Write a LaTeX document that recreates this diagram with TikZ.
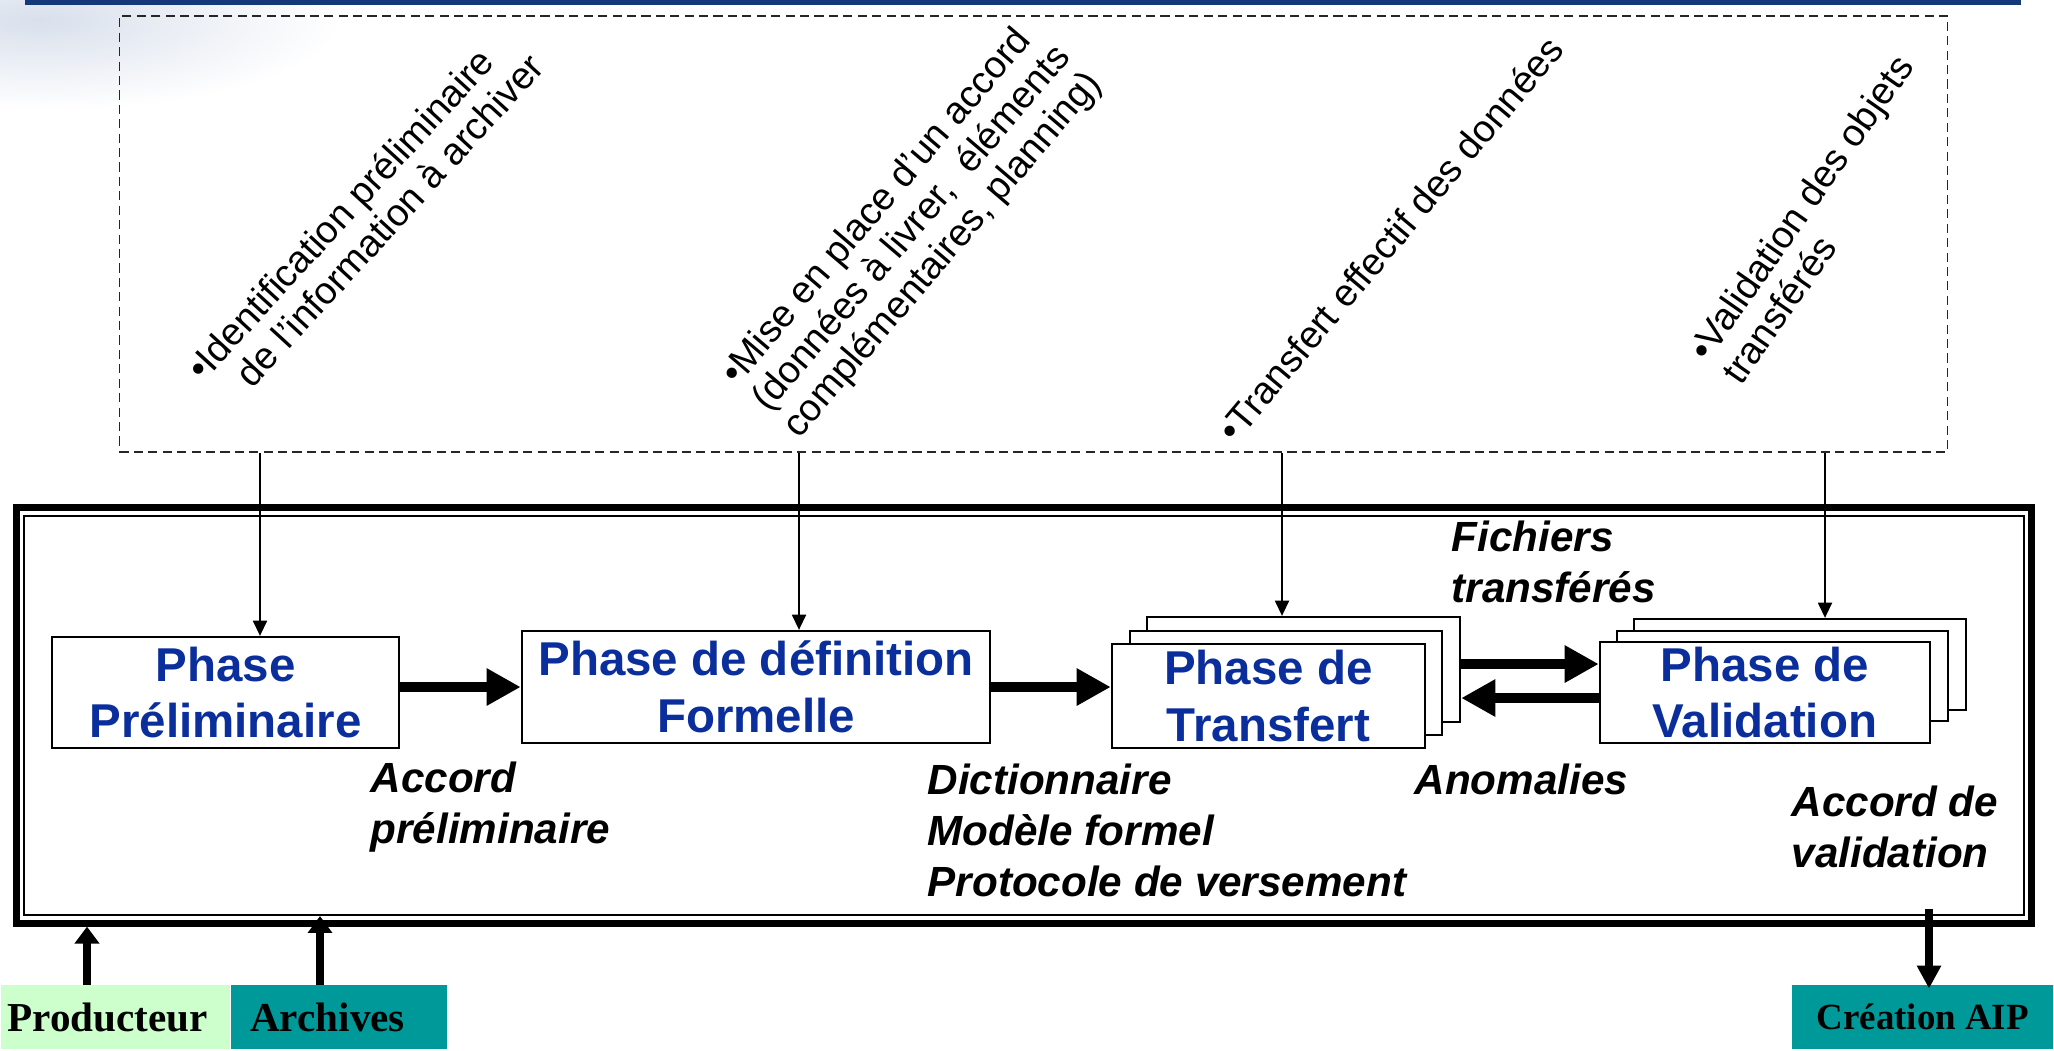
\documentclass[tikz,border=0pt]{standalone}
\usepackage{fontspec}
\setmainfont{Liberation Sans}
\newfontfamily\timesfont{Liberation Serif}
\usepackage{xcolor}
\usepackage{tikz}
\usetikzlibrary{calc,arrows.meta,positioning}
\definecolor{bar}{HTML}{14387A}
\definecolor{glow}{HTML}{D9E0EC}
\definecolor{phaseblue}{HTML}{0A2E9C}
\definecolor{sea}{HTML}{009999}
\definecolor{mint}{HTML}{CCFFCC}
\tikzset{
  frameout/.style={draw=black, line width=2pt, minimum width=20.14cm, minimum height=4.15cm, inner sep=0pt},
  framein/.style={draw=black, line width=0.55pt, minimum width=19.98cm, minimum height=3.99cm, inner sep=0pt},
  ideas/.style={draw=black!85, line width=0.45pt, dash pattern=on 2.6pt off 1.5pt, minimum width=18.27cm, minimum height=4.36cm, inner sep=0pt},
  phase/.style={draw=black, line width=0.65pt, fill=white, text=phaseblue, align=center, inner sep=0pt,
    font=\fontsize{13.5}{16.2}\selectfont\bfseries},
  ghost/.style={draw=black, line width=0.65pt, fill=white, inner sep=0pt},
  task/.style={anchor=base west, align=left, inner sep=0pt, font=\fontsize{10.8}{11.6}\selectfont},
  note/.style={anchor=base west, align=left, inner sep=0pt, font=\fontsize{12}{14.4}\selectfont\bfseries\itshape},
  actor/.style={inner ysep=0pt, minimum height=0.64cm, align=left, font=\timesfont\bfseries\fontsize{11.7}{14}\selectfont},
  feed/.style={draw=black, line width=0.45pt, -{Triangle[length=4.3pt, width=4pt]}},
  flow/.style={draw=black, line width=3.1pt, -{Triangle[length=9.7pt, width=10pt]}},
  lift/.style={draw=black, line width=2.5pt, -{Triangle[length=4.8pt, width=6.8pt]}},
}

\begin{document}
\begin{tikzpicture}[x=0.01cm, y=-0.01cm]
  \useasboundingbox (0,0) rectangle (2054,1050);
  \shade[inner color=glow, outer color=white] (40,20) ellipse (3cm and 0.9cm);
  \fill[bar] (25,0) rectangle (2021,5);

  % activities of each phase (anchored on the last line)
  \node[ideas] (ideas) at (1033.5,234) {};
  \node[task, rotate=47.5] (t1) at (233,411) {•Identification préliminaire\\\hspace*{.75em}de l’information à archiver};
  \node[task, rotate=49.5] (t2) at (799,440) {•Mise en place d’un accord\\(données à livrer,~ éléments\\complémentaires, planning)};
  \node[task, rotate=50] (t3) at (1235,445) {•Transfert effectif des données};
  \node[task, rotate=55] (t4) at (1741,387) {•Validation des objets\\transférés};

  \node[frameout] (frame) at (1024,715.5) {};
  \node[framein] (inner) at (1024,715.5) {};

  % phases
  \node[phase, minimum width=3.47cm, minimum height=1.11cm] (pre) at (225.5,692.5) {Phase\\Préliminaire};
  \node[phase, minimum width=4.68cm, minimum height=1.12cm] (def) at (756,687) {Phase de définition\\Formelle};
  \node[ghost, minimum width=3.13cm, minimum height=1.05cm] (trf3) at (1303.5,669.5) {};
  \node[ghost, minimum width=3.12cm, minimum height=1.04cm] (trf2) at (1286,683) {};
  \node[phase, minimum width=3.13cm, minimum height=1.04cm] (trf) at (1268.5,696) {Phase de\\Transfert};
  \node[ghost, minimum width=3.32cm, minimum height=0.91cm] (val3) at (1800,664.5) {};
  \node[ghost, minimum width=3.31cm, minimum height=0.90cm] (val2) at (1782.5,676) {};
  \node[phase, minimum width=3.30cm, minimum height=1.01cm] (val) at (1765,692.5) {Phase de\\Validation};

  \node[note] (acc) at (370,843) {Accord\\préliminaire};
  \node[note] (dic) at (927,896) {Dictionnaire\\Modèle formel\\Protocole de versement};
  \node[note] (fic) at (1451,602) {Fichiers\\transférés};
  \node[note] (ano) at (1414,794) {Anomalies};
  \node[note] (accv) at (1791,867) {Accord de\\validation};

  \coordinate (x1) at (260,0);
  \coordinate (x2) at (799,0);
  \coordinate (x3) at (1282,0);
  \coordinate (x4) at (1825,0);
  \draw[feed] (ideas.south -| x1) -- (pre.north -| x1);
  \draw[feed] (ideas.south -| x2) -- (def.north -| x2);
  \draw[feed] (ideas.south -| x3) -- (trf3.north -| x3);
  \draw[feed] (ideas.south -| x4) -- (val3.north -| x4);

  \coordinate (yf) at (0,664);
  \coordinate (yb) at (0,698);
  \draw[flow] (pre.east |- def.west) -- (def.west);
  \draw[flow] (def.east) -- (def.east -| trf.west);
  \draw[flow] (trf3.east |- yf) -- (val.west |- yf);
  \draw[flow] (val.west |- yb) -- (trf3.east |- yb);

  % actors
  \node[actor, fill=mint, text width=2.15cm, inner xsep=0.07cm, anchor=south west] (prod) at (0,1050) {Producteur};
  \node[actor, fill=sea, text width=1.78cm, inner xsep=0.19cm, anchor=south west] (arch) at (prod.south east) {Archives};
  \node[actor, fill=sea, minimum width=2.61cm, anchor=south east, align=center,
    font=\timesfont\bfseries\fontsize{10.5}{12.6}\selectfont] (aip) at (2054,1050) {Création AIP};

  \coordinate (xp) at (87,0);
  \coordinate (xa) at (320,0);
  \coordinate (xc) at (1929,0);
  \draw[lift] (prod.north -| xp) -- (frame.south -| xp);
  \draw[lift] (arch.north -| xa) -- (inner.south -| xa);
  \draw[lift, line width=2.3pt, -{Triangle[length=6.5pt, width=6.5pt]}]
    ($(inner.south -| xc)+(0,-7)$) -- ($(aip.north -| xc)+(0,4)$);
\end{tikzpicture}
\end{document}
